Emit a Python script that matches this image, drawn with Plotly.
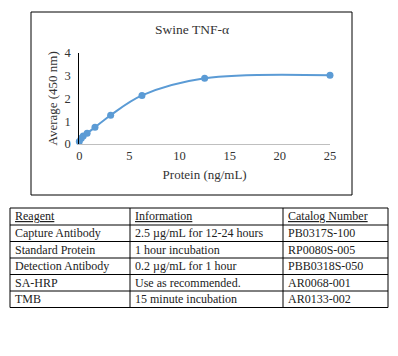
import plotly.graph_objects as go

# ---- data ----
protein = [0, 0.195, 0.39, 0.78, 1.5625, 3.125, 6.25, 12.5, 25]
average = [0.11, 0.25, 0.35, 0.47, 0.73, 1.26, 2.13, 2.88, 3.01]
x_ticks = [0, 5, 10, 15, 20, 25]
y_ticks = [0, 1, 2, 3, 4]

headers = ["Reagent", "Information", "Catalog Number"]
reagents = ["Capture Antibody", "Standard Protein", "Detection Antibody", "SA-HRP", "TMB"]
information = ["2.5 µg/mL for 12-24 hours", "1 hour incubation", "0.2 µg/mL for 1 hour",
               "Use as recommended.", "15 minute incubation"]
catalog = ["PB0317S-100", "RP0080S-005", "PBB0318S-050", "AR0068-001", "AR0133-002"]

W, H = 398, 356
SERIF = "Liberation Serif, Times New Roman, serif"
TXT = "#333"

def py(p):  # pixel y -> paper
    return 1 - p / H

def px(p):
    return p / W

fig = go.Figure()

fig.add_trace(go.Scatter(
    x=protein, y=average, mode="lines+markers",
    line=dict(color="#5B9BD5", width=2, shape="spline", smoothing=1),
    marker=dict(color="#5B9BD5", size=7),
    cliponaxis=False, showlegend=False, hoverinfo="x+y",
))

# ---- table (lines as shapes, text as annotations) ----
col_edges = [10, 130, 283, 388]
row_edges = [208, 225, 241.5, 258, 274.5, 291, 307.5]
columns = [reagents, information, catalog]

shapes = [dict(type="rect", xref="paper", yref="paper",
               x0=px(31), x1=px(352), y0=py(195), y1=py(12),
               line=dict(color="black", width=1), fillcolor="rgba(0,0,0,0)")]
for xe in col_edges:
    shapes.append(dict(type="line", xref="paper", yref="paper",
                       x0=px(xe), x1=px(xe), y0=py(row_edges[0]), y1=py(row_edges[-1]),
                       line=dict(color="black", width=1)))
for ye in row_edges:
    shapes.append(dict(type="line", xref="paper", yref="paper",
                       x0=px(col_edges[0]), x1=px(col_edges[-1]), y0=py(ye), y1=py(ye),
                       line=dict(color="black", width=1)))

annotations = [dict(text="Swine TNF-α", x=px(192), y=py(30), xref="paper", yref="paper",
                    xanchor="center", yanchor="middle",
                    showarrow=False, font=dict(family=SERIF, size=13.5, color=TXT))]

TFONT = dict(family=SERIF, size=12, color="#222")
for ci, h in enumerate(headers):
    annotations.append(dict(text=f"<u>{h}</u>", x=px(col_edges[ci] + 3),
                            y=py((row_edges[0] + row_edges[1]) / 2),
                            xref="paper", yref="paper", xanchor="left", yanchor="middle",
                            showarrow=False, font=TFONT))
    for ri, val in enumerate(columns[ci]):
        annotations.append(dict(text=val, x=px(col_edges[ci] + 3),
                                y=py((row_edges[ri + 1] + row_edges[ri + 2]) / 2),
                                xref="paper", yref="paper", xanchor="left", yanchor="middle",
                                showarrow=False, font=TFONT))

fig.update_layout(
    width=W, height=H, autosize=False,
    margin=dict(l=0, r=0, t=0, b=0),
    paper_bgcolor="white", plot_bgcolor="white",
    font=dict(family=SERIF, size=12, color=TXT),
    xaxis=dict(domain=[px(79.3), px(330)], range=[0, 25], tickvals=x_ticks,
               showgrid=False, zeroline=False, showline=True, linecolor="#bfbfbf",
               linewidth=1, ticks="", automargin=False,
               tickfont=dict(family=SERIF, size=12.5, color=TXT),
               title=dict(text="Protein (ng/mL)", font=dict(family=SERIF, size=13, color=TXT),
                          standoff=7),
               fixedrange=True),
    yaxis=dict(domain=[py(144), py(52.7)], range=[0, 4], tickvals=y_ticks,
               showgrid=False, zeroline=False, showline=True, linecolor="black",
               linewidth=1, ticks="", automargin=False, ticklabelstandoff=5,
               tickfont=dict(family=SERIF, size=12.5, color=TXT),
               title=dict(text="Average (450 nm)", font=dict(family=SERIF, size=13, color=TXT),
                          standoff=3),
               fixedrange=True),
    annotations=annotations,
    shapes=shapes,
)

fig.write_html("out.html", config={"displayModeBar": False},
               post_script="document.body.style.margin='0';")
